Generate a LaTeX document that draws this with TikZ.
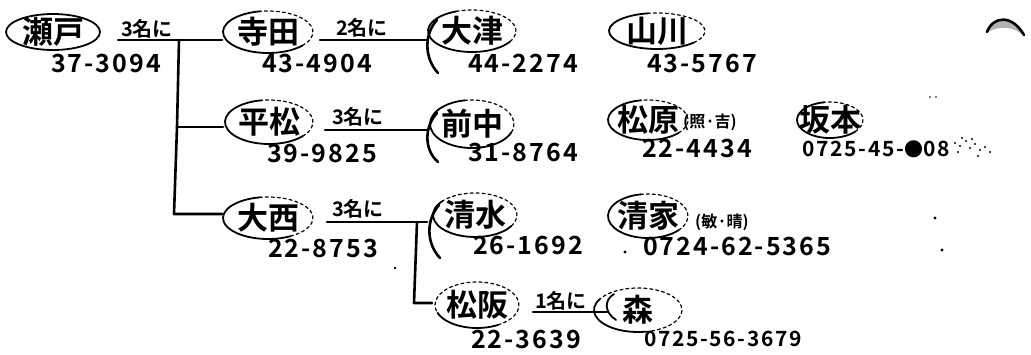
\documentclass[tikz,border=0pt]{standalone}
\usepackage{fontspec}
\setmainfont{Noto Sans CJK JP Bold}
\newfontfamily\numfont[LetterSpace=8]{Noto Sans CJK JP Bold}
\usetikzlibrary{calc}
\newcommand\hring[5]{%
  \draw[ring] ($(#1)+(#4:#2pt and #3pt)$) arc[start angle=#4, end angle=#5, x radius=#2pt, y radius=#3pt];
  \draw[ringdash] ($(#1)+(#5:#2pt and #3pt)$) arc[start angle=#5, end angle=#4+360, x radius=#2pt, y radius=#3pt];
}
\begin{document}
\begin{tikzpicture}[x=1pt,y=-1pt, line cap=round, line join=round,
  person/.style={inner sep=0pt, font=\fontsize{31}{31}\selectfont},
  num/.style={inner sep=0pt, font=\numfont\fontsize{25}{25}\selectfont},
  smallnum/.style={inner sep=0pt, font=\numfont\fontsize{21}{21}\selectfont},
  cnt/.style={inner sep=0pt, font=\fontsize{20}{20}\selectfont},
  note/.style={inner sep=0pt, font=\fontsize{16}{16}\selectfont},
  wire/.style={line width=2.6pt},
  ring/.style={line width=1.8pt},
  ringdash/.style={line width=1.2pt, dash pattern=on 3pt off 3pt},
  speck/.style={fill=black}]
\useasboundingbox (0,0) rectangle (1031,354);
\fill[white] (0,0) rectangle (1031,354);

% ---- names ----
\node[person] (seto) at (53,32) {瀬戸};
\node[person] (terada) at (268,32) {寺田};
\node[person] (otsu) at (472,31) {大津};
\node[person] (yamakawa) at (657,31) {山川};
\node[person] (hiramatsu) at (269,122) {平松};
\node[person] (maenaka) at (472,124) {前中};
\node[person] (matsubara) at (648,120) {松原};
\node[note] (matsubaraN) at (710,122) {(照·吉)};
\node[person] (sakamoto) at (830,120) {坂本};
\node[person] (onishi) at (268,218) {大西};
\node[person] (shimizu) at (475,215) {清水};
\node[person] (seike) at (648,216) {清家};
\node[note] (seikeN) at (722,222) {(敏·晴)};
\node[person] (matsusaka) at (477,305) {松阪};
\node[person] (mori) at (638,310) {森};

% ---- rings ----
\hring{seto}{47}{18}{0}{360}
\hring{terada}{45}{21}{100}{320}
\hring{otsu}{44}{21}{110}{330}
\hring{yamakawa}{48}{18}{100}{320}
\hring{hiramatsu}{44}{22}{100}{320}
\hring{maenaka}{42}{24}{100}{340}
\hring{matsubara}{40}{20}{100}{320}
\hring{sakamoto}{33}{18}{100}{320}
\hring{onishi}{45}{21}{100}{300}
\hring{shimizu}{42}{22}{140}{330}
\hring{seike}{40}{22}{100}{320}
\hring{matsusaka}{42}{23}{200}{300}
\hring{mori}{44}{22}{150}{280}

% ---- numbers ----
\node[num] (setoT) at (106,63) {37-3094};
\node[num] (teradaT) at (317,63) {43-4904};
\node[num] (otsuT) at (523,63) {44-2274};
\node[num] (yamakawaT) at (702,63) {43-5767};
\node[num] (hiramatsuT) at (322,153) {39-9825};
\node[num] (maenakaT) at (523,152) {31-8764};
\node[num] (matsubaraT) at (697,148) {22-4434};
\node[smallnum] (sakamotoT) at (876,149) {0725-45-{\fontsize{19}{19}\selectfont●}08};
\node[num] (onishiT) at (323,248) {22-8753};
\node[num] (shimizuT) at (528,245) {26-1692};
\node[num] (seikeT) at (737,246) {0724-62-5365};
\node[num] (matsusakaT) at (526,339) {22-3639};
\node[smallnum] (moriT) at (723,339) {0725-56-3679};

% ---- counts ----
\node[cnt] (c1) at (147,29) {3名に};
\node[cnt] (c2) at (362,28) {2名に};
\node[cnt] (c3) at (358,117) {3名に};
\node[cnt] (c4) at (358,209) {3名に};
\node[cnt] (c5) at (561,301) {1名に};

% ---- connectors ----
\coordinate (a1) at (118,40);
\coordinate (a2) at (222,40);
\coordinate (top) at (179,40);
\coordinate (mid) at (177,127);
\coordinate (mid2) at (223,127);
\coordinate (bot) at (174,214);
\coordinate (bot2) at (222,214);
\draw[wire] (a1) -- (a2);
\draw[wire] (top) -- (mid) -- (bot) -- (bot2);
\draw[wire] (mid) -- (mid2);

\coordinate (b1) at (320,40);
\coordinate (b2) at (427,40);
\draw[wire] (b1) -- (b2);
\coordinate (h1) at (325,130);
\coordinate (h2) at (427,130);
\draw[wire] (h1) -- (h2);
\coordinate (o1) at (327,222);
\coordinate (o2) at (427,222);
\coordinate (o3) at (417,222);
\coordinate (o4) at (414,303);
\coordinate (o5) at (432,303);
\draw[wire] (o1) -- (o2);
\draw[wire] (o3) -- (o4) -- (o5);
\coordinate (m1) at (533,312);
\coordinate (m2) at (607,312);
\draw[wire] (m1) -- (m2);

% ---- brackets ----
\draw[wire] (437,20) .. controls (424,34) and (424,58) .. (438,73);
\draw[wire] (437,113) .. controls (424,127) and (424,150) .. (438,162);
\draw[wire] (439,205) .. controls (426,220) and (426,243) .. (440,258);
\draw[ring] (614,294) .. controls (604,300) and (604,312) .. (616,320);

% ---- specks and blemishes ----
\fill[speck] (625,252) circle (1.6pt);
\fill[speck] (935,218) circle (1.6pt);
\fill[speck] (942,250) circle (1.6pt);
\fill[speck] (395,268) circle (1.3pt);
\fill[speck] (930,97) circle (0.9pt);
\fill[speck] (936,97) circle (0.9pt);
\foreach \p in {(955,143),(960,146),(966,141),(970,148),(975,144),(980,150),(985,147),(958,152),(972,139),(990,152),(962,138),(978,156)}
  \fill[speck] \p circle (1.1pt);
\fill[gray!60] (988,32) .. controls (994,17) and (1012,15) .. (1023,35) .. controls (1014,27) and (1000,25) .. (988,32) -- cycle;
\draw[line width=2.6pt] (987,32) .. controls (993,16) and (1012,14) .. (1024,35);
\end{tikzpicture}
\end{document}
